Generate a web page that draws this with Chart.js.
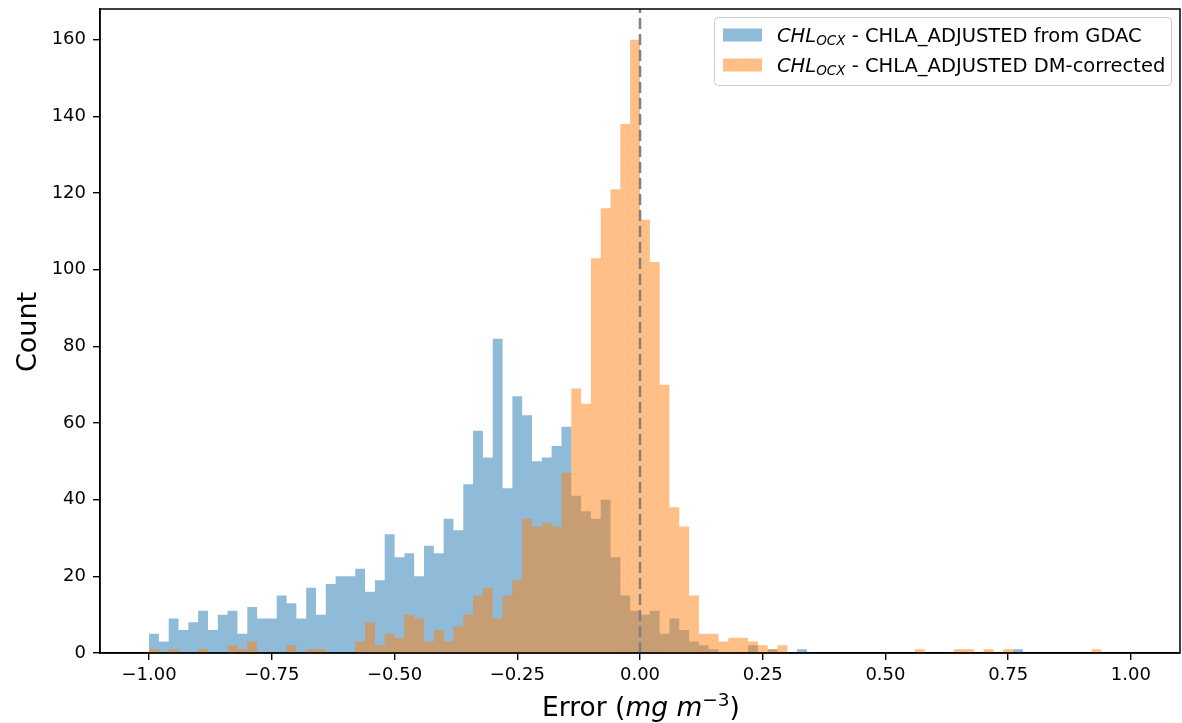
<!DOCTYPE html>
<html lang="en">
<head>
<meta charset="UTF-8">
<title>CHL OCX error histogram</title>
<script src="https://cdn.jsdelivr.net/npm/chart.js"></script>
<style>
  html, body { margin: 0; padding: 0; background: #fff; }
  #wrap { position: relative; width: 1182px; height: 723px; }
</style>
</head>
<body>
<div id="wrap"><canvas id="hist"></canvas></div>
<script>
// 100 bins of 0.02 between -1 and 1
const binStart = -1.0;
const binWidth = 0.02;

const gdacCounts = [
  5, 3, 9, 6, 8, 11, 6, 10, 11, 5,
  12, 9, 9, 15, 13, 9, 17, 10, 18, 20,
  20, 22, 16, 19, 31, 25, 26, 20, 28, 26,
  35, 32, 44, 58, 51, 82, 43, 67, 62, 50,
  51, 54, 59, 41, 37, 35, 40, 25, 15, 11,
  10, 11, 5, 9, 6, 3, 2, 1, 0, 0,
  0, 2, 0, 1, 0, 0, 1, 0, 0, 0,
  0, 0, 0, 0, 0, 0, 0, 0, 0, 0,
  0, 0, 0, 0, 0, 0, 0, 0, 1, 0,
  0, 0, 0, 0, 0, 0, 0, 0, 0, 0
];
const dmCounts = [
  1, 0, 1, 0, 0, 1, 0, 0, 2, 1,
  3, 0, 0, 0, 2, 0, 1, 1, 0, 0,
  0, 3, 8, 2, 5, 4, 10, 9, 3, 6,
  3, 7, 10, 15, 17, 9, 15, 19, 35, 33,
  34, 33, 47, 69, 65, 103, 116, 121, 138, 160,
  113, 102, 70, 38, 33, 15, 5, 5, 3, 4,
  4, 3, 2, 1, 2, 0, 0, 0, 0, 0,
  0, 0, 0, 0, 0, 0, 0, 0, 1, 0,
  0, 0, 1, 1, 0, 1, 0, 1, 0, 0,
  0, 0, 0, 0, 0, 0, 1, 0, 0, 0
];

const xTickValues = [-1, -0.75, -0.5, -0.25, 0, 0.25, 0.5, 0.75, 1];
const xTickLabels = ['−1.00', '−0.75', '−0.50', '−0.25', '0.00', '0.25', '0.50', '0.75', '1.00'];
const yTickValues = [0, 20, 40, 60, 80, 100, 120, 140, 160];
const yTickLabels = ['0', '20', '40', '60', '80', '100', '120', '140', '160'];

const seriesNames = ['CHLA_ADJUSTED from GDAC', 'CHLA_ADJUSTED DM-corrected'];
const seriesColors = ['rgba(31, 119, 180, 0.5)', 'rgba(255, 127, 14, 0.5)'];

const FONT = 'DejaVu Sans';

// each bin is drawn as a step from its left edge; the last point closes the final bin
function histPoints(counts) {
  const pts = counts.map((c, i) => ({ x: binStart + binWidth * i, y: c }));
  pts.push({ x: binStart + binWidth * counts.length, y: 0 });
  return pts;
}

// draws a row of text pieces (for italics, sub/superscripts)
function drawPieces(ctx, pieces, x, y, align) {
  let total = 0;
  pieces.forEach(p => {
    ctx.font = (p.italic ? 'italic ' : '') + p.size + 'px "' + FONT + '"';
    p.w = ctx.measureText(p.t).width;
    total += p.w;
  });
  let cx = align === 'center' ? x - total / 2 : x;
  ctx.textAlign = 'left';
  ctx.textBaseline = 'alphabetic';
  pieces.forEach(p => {
    ctx.font = (p.italic ? 'italic ' : '') + p.size + 'px "' + FONT + '"';
    ctx.fillText(p.t, cx, y + (p.dy || 0));
    cx += p.w;
  });
}

const extras = {
  id: 'extras',
  afterDatasetsDraw(chart) {
    const ctx = chart.ctx;
    const a = chart.chartArea;
    const x0 = chart.scales.x.getPixelForValue(0);
    ctx.save();
    ctx.strokeStyle = '#808080';
    ctx.lineWidth = 2.5;
    ctx.setLineDash([11, 5]);
    ctx.beginPath();
    ctx.moveTo(x0, a.bottom);
    ctx.lineTo(x0, a.top);
    ctx.stroke();
    ctx.restore();
  },
  afterDraw(chart) {
    const ctx = chart.ctx;
    const a = chart.chartArea;
    ctx.save();
    ctx.fillStyle = '#000';

    // frame
    ctx.strokeStyle = '#000';
    ctx.lineWidth = 1.5;
    ctx.strokeRect(a.left, a.top, a.right - a.left, a.bottom - a.top);

    // legend
    const lx = 714.5, ly = 17.5, lw = 457, lh = 68;
    ctx.beginPath();
    ctx.roundRect(lx, ly, lw, lh, 4);
    ctx.fillStyle = 'rgba(255,255,255,0.8)';
    ctx.fill();
    ctx.strokeStyle = '#cccccc';
    ctx.lineWidth = 1;
    ctx.stroke();
    seriesNames.forEach((name, i) => {
      const cy = 35 + i * 30;
      ctx.fillStyle = seriesColors[i];
      ctx.fillRect(723, cy - 6.5, 39, 13);
      ctx.fillStyle = '#000';
      drawPieces(ctx, [
        { t: 'CHL', size: 19.5, italic: true },
        { t: 'OCX', size: 13.5, italic: true, dy: 3 },
        { t: ' - ' + name, size: 19.5 }
      ], 777, cy + 7, 'left');
    });

    // axis titles
    ctx.fillStyle = '#000';
    drawPieces(ctx, [
      { t: 'Error (', size: 26.5 },
      { t: 'mg m', size: 26.5, italic: true },
      { t: '−3', size: 18.5, dy: -10 },
      { t: ')', size: 26.5 }
    ], 641, 716, 'center');

    ctx.translate(29, 332);
    ctx.rotate(-Math.PI / 2);
    ctx.font = '27px "' + FONT + '"';
    ctx.textAlign = 'center';
    ctx.textBaseline = 'middle';
    ctx.fillText('Count', 0, 0);
    ctx.restore();
  }
};

const tickFont = { family: FONT, size: 18 };

function histDataset(label, counts, color, order) {
  return {
    label: label,
    data: histPoints(counts),
    stepped: 'before',
    fill: 'origin',
    backgroundColor: color,
    borderColor: 'rgba(0,0,0,0)',
    borderWidth: 0,
    pointRadius: 0,
    tension: 0,
    order: order
  };
}

new Chart(document.getElementById('hist'), {
  type: 'line',
  data: {
    datasets: [
      histDataset(seriesNames[0], gdacCounts, seriesColors[0], 2),
      histDataset(seriesNames[1], dmCounts, seriesColors[1], 1)
    ]
  },
  options: {
    responsive: true,
    maintainAspectRatio: false,
    animation: false,
    layout: { padding: { top: 9, right: 2, left: 0, bottom: 0 } },
    plugins: {
      legend: { display: false },
      tooltip: { enabled: false }
    },
    scales: {
      x: {
        type: 'linear',
        min: -1.1,
        max: 1.1,
        afterBuildTicks: s => { s.ticks = xTickValues.map(v => ({ value: v })); },
        afterFit: s => { s.height = 70; s.paddingLeft = 0; s.paddingRight = 0; },
        ticks: {
          font: tickFont,
          color: '#000',
          padding: 5,
          maxRotation: 0,
          autoSkip: false,
          callback: (v, i) => xTickLabels[i]
        },
        grid: { display: true, drawOnChartArea: false, drawTicks: true, tickLength: 7, color: '#000', lineWidth: 1.4 },
        border: { display: true, color: '#000', width: 1.5 }
      },
      y: {
        min: 0,
        max: 168,
        afterBuildTicks: s => { s.ticks = yTickValues.map(v => ({ value: v })); },
        afterFit: s => { s.width = 100; s.paddingTop = 0; s.paddingBottom = 0; },
        ticks: {
          font: tickFont,
          color: '#000',
          padding: 7,
          callback: (v, i) => yTickLabels[i]
        },
        grid: { display: true, drawOnChartArea: false, drawTicks: true, tickLength: 7, color: '#000', lineWidth: 1.4 },
        border: { display: true, color: '#000', width: 1.5 }
      }
    }
  },
  plugins: [extras]
});
</script>
</body>
</html>
